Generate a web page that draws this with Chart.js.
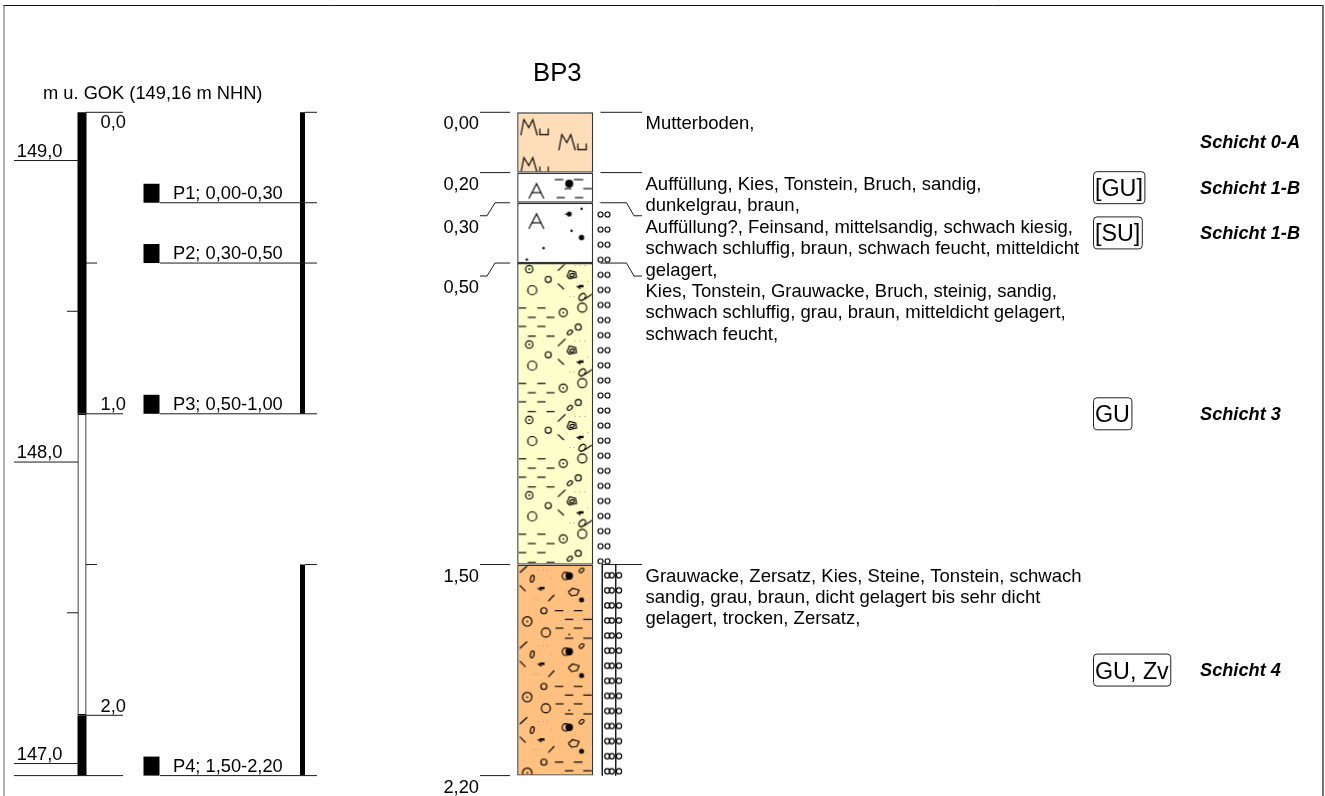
<!DOCTYPE html>
<html>
<head>
<meta charset="utf-8">
<title>BP3</title>
<style>
  html, body { margin: 0; padding: 0; background: #fff; overflow: hidden; }
  canvas { display: block; }
</style>
<script src="https://cdn.jsdelivr.net/npm/chart.js@4/dist/chart.umd.min.js"></script>
</head>
<body>
<canvas id="chart" width="1325" height="796"></canvas>
<script>
// borehole data, depths in m below ground
const boreholeName = 'BP3';
const axisTitle = 'm u. GOK (149,16 m NHN)';
const groundLevelNhn = 149.16;

const layerTops = [0, 0.2, 0.3, 0.5, 1.5];
const layerBases = [0.2, 0.3, 0.5, 1.5, 2.2];
const layerDepths = [0, 0.2, 0.3, 0.5, 1.5, 2.2];
const layerDepthLabels = ['0,00', '0,20', '0,30', '0,50', '1,50', '2,20'];
const soilGroups = ['', '[GU]', '[SU]', 'GU', 'GU, Zv'];
const layerNames = ['Schicht 0-A', 'Schicht 1-B', 'Schicht 1-B', 'Schicht 3', 'Schicht 4'];
const layerDescriptions = [
    ['Mutterboden,'],
    ['Auffüllung, Kies, Tonstein, Bruch, sandig,', 'dunkelgrau, braun,'],
    ['Auffüllung?, Feinsand, mittelsandig, schwach kiesig,', 'schwach schluffig, braun, schwach feucht, mitteldicht', 'gelagert,'],
    ['Kies, Tonstein, Grauwacke, Bruch, steinig, sandig,', 'schwach schluffig, grau, braun, mitteldicht gelagert,', 'schwach feucht,'],
    ['Grauwacke, Zersatz, Kies, Steine, Tonstein, schwach', 'sandig, grau, braun, dicht gelagert bis sehr dicht', 'gelagert, trocken, Zersatz,'],
];

const sampleBases = [0.3, 0.5, 1.0, 2.2];
const sampleLabels = ['P1; 0,00-0,30', 'P2; 0,30-0,50', 'P3; 0,50-1,00', 'P4; 1,50-2,20'];

const gokTicks = [0, 0.5, 1, 1.5, 2];
const gokTickLabels = ['0,0', '', '1,0', '', '2,0'];
const nhnTicks = [149, 148, 147];
const nhnTickLabels = ['149,0', '148,0', '147,0'];
const nhnMinorTicks = [148.5, 147.5];

const axisBlackTops = [0, 2];
const axisBlackBases = [1, 2.2];
const sampleBarTops = [0, 1.5];
const sampleBarBases = [1, 2.2];
const waterColumnTops = [0.3];
const waterColumnBases = [1.5];
const zersatzTops = [1.5];
const zersatzBases = [2.2];

// page geometry
const topPx = 112.3;
const pxPerM = 301.5;
const depthPx = d => topPx + d * pxPerM;
const pxDepth = px => px / pxPerM;
const FONT = '"Liberation Sans", Arial, sans-serif';
const INK = '#1a1a1a';

// hatch tiles
function makeTile(w, h, fill, draw) {
    const c = document.createElement('canvas');
    c.width = w;
    c.height = h;
    const g = c.getContext('2d');
    if (fill) {
        g.fillStyle = fill;
        g.fillRect(0, 0, w, h);
    }
    g.strokeStyle = '#000';
    g.fillStyle = '#000';
    g.lineWidth = 1.15;
    draw(g);
    return c;
}

function seg(g, x1, y1, x2, y2) {
    g.beginPath();
    g.moveTo(x1, y1);
    g.lineTo(x2, y2);
    g.stroke();
}

function poly(g, pts) {
    g.beginPath();
    pts.forEach((p, i) => (i ? g.lineTo(p[0], p[1]) : g.moveTo(p[0], p[1])));
    g.stroke();
}

function ring(g, x, y, r) {
    g.beginPath();
    g.arc(x, y, r, 0, Math.PI * 2);
    g.stroke();
}

function disc(g, x, y, r) {
    g.beginPath();
    g.arc(x, y, r, 0, Math.PI * 2);
    g.fill();
}

function oval(g, x, y, rx, ry, rot) {
    g.beginPath();
    g.ellipse(x, y, rx, ry, rot, 0, Math.PI * 2);
    g.stroke();
}

function dotRing(g, x, y, r) {
    ring(g, x, y, r);
    disc(g, x, y, 0.9);
}

function dashes(g, y, spans) {
    spans.forEach(s => seg(g, s[0], y, s[1], y));
}

function letterA(g, dy) {
    poly(g, [[11.3, dy + 15], [19, dy], [26.3, dy + 15]]);
    seg(g, 14, dy + 9, 23.7, dy + 9);
}

function arrowMark(g, x, y) {
    g.fillRect(x - 2, y - 1.2, 5, 2.4);
    seg(g, x - 4, y, x, y + 2.5);
}

function fineDots(g, pts) {
    g.save();
    g.fillStyle = '#999';
    pts.forEach(p => g.fillRect(p[0], p[1], 1, 1));
    g.restore();
}

function drawMu(g, x, y) {
    poly(g, [[x + 3.3, y + 23], [x + 6.3, y + 7.3], [x + 11.3, y + 15.3], [x + 15.3, y + 7.3], [x + 19.7, y + 23]]);
    poly(g, [[x + 22.3, y + 16.3], [x + 22.3, y + 22.3], [x + 30.7, y + 22.3], [x + 30.7, y + 16.3]]);
}

const tileMu = makeTile(76, 38, '#FEDDB9', g => {
    drawMu(g, 0, 0);
    drawMu(g, 38, 15);
});

const tileFillA = makeTile(76, 31, '#FFFFFF', g => {
    letterA(g, 11);
    disc(g, 51.7, 11, 4);
    dashes(g, 7, [[37.3, 45.7], [56.3, 65.7]]);
    dashes(g, 16, [[47, 54], [65.7, 75]]);
    dashes(g, 25, [[39, 47.3], [57.3, 65.7]]);
});

const tileFillB = makeTile(76, 61, '#FFFFFF', g => {
    letterA(g, 11);
    disc(g, 51.7, 11.3, 2.5);
    seg(g, 47.5, 11.3, 50, 11.3);
    disc(g, 64, 6, 1.2);
    disc(g, 54, 28, 1.2);
    disc(g, 64, 34.7, 2.7);
    disc(g, 26, 45.3, 1.2);
    disc(g, 9.3, 56.7, 1.2);
});

const tileGravel = makeTile(76, 75, '#FFFFCC', g => {
    dotRing(g, 11.7, 6, 3.7);
    seg(g, 40.3, 7.7, 48, 0.3);
    poly(g, [[49.5, 13], [52, 7.5], [58, 9], [59, 14], [52, 15.5], [49.5, 13]]);
    oval(g, 54.5, 12, 2.5, 1.5, -0.4);
    ring(g, 30.7, 16.3, 3);
    seg(g, 40.3, 20.3, 46.3, 26);
    arrowMark(g, 63, 23);
    ring(g, 14.7, 27, 4.5);
    oval(g, 64.7, 33.7, 4, 2.8, -0.8);
    seg(g, 66.3, 36.3, 75.7, 30.3);
    ring(g, 64.7, 44.3, 4.5);
    dashes(g, 44.7, [[0.7, 8.7], [19.7, 28]]);
    dashes(g, 54, [[10.3, 18.3], [29, 37]]);
    dotRing(g, 45.7, 49.3, 4);
    dashes(g, 63, [[0.7, 8.7], [19.7, 28]]);
    dashes(g, 72.7, [[10.3, 18.3], [29, 37]]);
    ring(g, 60.7, 63.7, 3);
    oval(g, 52.3, 69, 3, 1.8, -0.7);
    fineDots(g, [[57, 2], [62, 2], [67, 2], [52, 33], [56, 33], [70, 18]]);
});

const tileWeathered = makeTile(76, 75, '#FFC080', g => {
    seg(g, 2.3, 8, 9.7, 1.3);
    oval(g, 14.7, 14, 1.8, 3.5, 0.2);
    oval(g, 48.3, 11.3, 3.7, 3.7, 0);
    disc(g, 51.7, 11.3, 3.7);
    oval(g, 64, 5.7, 2.8, 1.7, -0.7);
    seg(g, 2.3, 20.7, 8, 26.3);
    arrowMark(g, 24, 23.3);
    poly(g, [[50.7, 27.3], [55, 23.5], [61.5, 25.3], [59.5, 30], [54, 31], [50.7, 27.3]]);
    disc(g, 64, 35, 2.5);
    seg(g, 30.7, 36.3, 36.7, 30);
    ring(g, 26.3, 45.7, 3);
    dashes(g, 45.7, [[37.3, 45.7], [56.3, 65]]);
    dashes(g, 54.3, [[47.3, 55.7], [65.7, 75]]);
    dotRing(g, 9.7, 56.3, 4.7);
    ring(g, 28.3, 67.3, 4.5);
    dashes(g, 63, [[38, 46], [56.3, 65]]);
    dashes(g, 73, [[47.3, 55.7], [65.7, 75]]);
    disc(g, 51.7, 69.3, 0.9);
    fineDots(g, [[20, 5], [25, 5], [29, 5], [16, 33], [20, 33], [33, 13]]);
});

const tileOo = makeTile(15, 15, null, g => {
    ring(g, 3.5, 7.5, 2.5);
    ring(g, 10.5, 7.5, 2.5);
});

const tileOoLined = makeTile(22, 15, null, g => {
    ring(g, 4.3, 7.5, 2.6);
    ring(g, 8.7, 7.5, 2.6);
    ring(g, 16, 7.5, 2.6);
});

const ctx = document.getElementById('chart').getContext('2d');

function tilePattern(tile, x, depth, period, offsetPx) {
    const p = ctx.createPattern(tile, 'repeat');
    const sy = (period || tile.height) / tile.height;
    p.setTransform(new DOMMatrix([1, 0, 0, sy, x, depthPx(depth) + (offsetPx || 0)]));
    return p;
}

const columnX = 517.5;
const layerFills = [
    tilePattern(tileMu, columnX, layerTops[0]),
    tilePattern(tileFillA, columnX, layerTops[1]),
    tilePattern(tileFillB, columnX, layerTops[2]),
    tilePattern(tileGravel, columnX, layerTops[3], 75.4),
    tilePattern(tileWeathered, columnX, layerTops[4], 75.7),
];

function barSet(x, width, tops, bases, fills, border, borderWidth) {
    return {
        type: 'bar',
        grouped: false,
        barThickness: width,
        backgroundColor: fills,
        borderColor: border,
        borderWidth: borderWidth,
        borderSkipped: false,
        inflateAmount: 0,
        data: tops.map((t, i) => ({ x: x, y: [t, bases[i]] })),
    };
}

function lineSet(points, width, color) {
    return {
        type: 'line',
        data: points.map(p => ({ x: p[0], y: p[1] })),
        borderColor: color || INK,
        borderWidth: width || 1,
        pointRadius: 0,
        tension: 0,
        fill: false,
    };
}

const datasets = [];

// ticks of the depth axis
gokTicks.forEach((d, i) => {
    datasets.push(lineSet([[86, d], [gokTickLabels[i] ? 123 : 97, d]]));
});
nhnTicks.forEach(v => {
    const d = groundLevelNhn - v;
    datasets.push(lineSet([[14, d], [78, d]]));
});
nhnMinorTicks.forEach(v => {
    const d = groundLevelNhn - v;
    datasets.push(lineSet([[67, d], [78, d]]));
});
datasets.push(lineSet([[14, 2.2], [123, 2.2]]));

// sample lines and their end ticks on the bar
sampleBases.forEach(d => {
    datasets.push(lineSet([[160, d], [317, d]]));
});
[0, 1.5].forEach(d => {
    datasets.push(lineSet([[305, d], [317, d]]));
});

// depth connectors, shifted where the labels would run into each other
const connectorDrop = pxDepth(13);
layerDepths.forEach((d, i) => {
    if (i === 2 || i === 3) {
        datasets.push(lineSet([[480, d + connectorDrop], [487, d + connectorDrop], [495, d], [510, d]]));
        datasets.push(lineSet([[600.5, d], [626.5, d], [634, d + connectorDrop], [642, d + connectorDrop]]));
    } else {
        datasets.push(lineSet([[480, d], [510, d]]));
        if (i < 2) datasets.push(lineSet([[600.5, d], [642, d]]));
    }
});
datasets.push(lineSet([[602.3, 1.5], [642, 1.5]]));
datasets.push(lineSet([[602.3, 1.5], [602.3, 2.2]]));
datasets.push(lineSet([[615.7, 1.5], [615.7, 2.2]]));

// bars
datasets.push(barSet(82, 9, axisBlackTops, axisBlackBases, '#000', '#000', 0));
datasets.push(barSet(82, 9, [1], [2], '#fff', '#000', 1.2));
datasets.push(barSet(302.5, 5, sampleBarTops, sampleBarBases, '#000', '#000', 0));
datasets.push(barSet(151.5, 16, sampleBases.map(d => d - pxDepth(19)), sampleBases, '#000', '#000', 0));
datasets.push(barSet(555.2, 76, layerTops, layerBases, layerFills, '#333', 1.4));
datasets.push(barSet(604.5, 15, waterColumnTops, waterColumnBases, tilePattern(tileOo, 597, 0.3, 15.075, 11.7 - 7.5), 'rgba(0,0,0,0)', 0));
datasets.push(barSet(614, 22, zersatzTops, zersatzBases, tilePattern(tileOoLined, 603, 1.5, 15.075, 10.7 - 7.5), 'rgba(0,0,0,0)', 0));

const sheetPlugin = {
    id: 'sheet',
    beforeDraw(chart) {
        const g = chart.ctx;
        g.save();
        g.fillStyle = '#fff';
        g.fillRect(0, 0, chart.width, chart.height);
        g.strokeStyle = '#999';
        g.lineWidth = 1.5;
        g.beginPath();
        g.moveTo(4, chart.height);
        g.lineTo(4, 6);
        g.stroke();
        g.strokeStyle = '#111';
        g.lineWidth = 1;
        g.beginPath();
        g.moveTo(3.5, 5.5);
        g.lineTo(1322.5, 5.5);
        g.stroke();
        g.strokeStyle = '#444';
        g.lineWidth = 1.5;
        g.beginPath();
        g.moveTo(1323, 5);
        g.lineTo(1323, chart.height);
        g.stroke();
        g.restore();
    },
    afterDatasetsDraw(chart) {
        const g = chart.ctx;
        const y = chart.scales.y;
        const at = d => y.getPixelForValue(d);
        const put = (text, px, py, font, align) => {
            g.font = font;
            g.textAlign = align || 'left';
            g.fillText(text, px, py);
        };
        const body = '18.3px ' + FONT;
        const descriptionFont = '18.5px ' + FONT;

        g.save();
        g.fillStyle = '#000';
        g.textBaseline = 'alphabetic';

        put(boreholeName, 533, 80.7, '25.7px ' + FONT);
        put(axisTitle, 43, 99, body);

        gokTicks.forEach((d, i) => {
            if (gokTickLabels[i]) {
                put(gokTickLabels[i], 100.5, i === 0 ? at(d) + 16 : at(d) - 3.5, body);
            }
        });
        nhnTicks.forEach((v, i) => {
            put(nhnTickLabels[i], 62.5, at(groundLevelNhn - v) - 4, body, 'right');
        });
        sampleBases.forEach((d, i) => {
            put(sampleLabels[i], 173, at(d) - 4, body);
        });

        layerDepths.forEach((d, i) => {
            const drop = i === 2 || i === 3 ? 13 : 0;
            put(layerDepthLabels[i], 479, at(d) + drop + 17, body, 'right');
        });

        // description text runs on when a layer is too thin for it
        const lineStep = 21.4;
        let last = -100;
        layerDescriptions.forEach((lines, i) => {
            const drop = i === 2 || i === 3 ? 13 : 0;
            let base = Math.max(at(layerTops[i]) + drop + 17, last + lineStep);
            lines.forEach(text => {
                put(text, 645.5, base, descriptionFont);
                last = base;
                base += lineStep;
            });
        });

        layerNames.forEach((name, i) => {
            const mid = at((layerTops[i] + layerBases[i]) / 2);
            put(name, 1200, mid + 6, 'italic bold 18.2px ' + FONT);
            if (soilGroups[i]) {
                g.font = '23.3px ' + FONT;
                g.textAlign = 'left';
                const w = g.measureText(soilGroups[i]).width;
                g.strokeStyle = '#222';
                g.lineWidth = 1;
                g.beginPath();
                g.roundRect(1093.5, mid - 16, w + 3.5, 32, 3.5);
                g.stroke();
                g.fillText(soilGroups[i], 1095, mid + 8.5);
            }
        });
        g.restore();
    },
};

new Chart(ctx, {
    type: 'bar',
    data: { datasets: datasets },
    plugins: [sheetPlugin],
    options: {
        responsive: false,
        animation: false,
        events: [],
        layout: { padding: 0 },
        scales: {
            x: { type: 'linear', display: false, min: 0, max: 1325, offset: false },
            y: {
                type: 'linear',
                display: false,
                reverse: true,
                min: -topPx / pxPerM,
                max: (796 - topPx) / pxPerM,
            },
        },
        plugins: {
            legend: { display: false },
            tooltip: { enabled: false },
        },
    },
});
</script>
</body>
</html>
